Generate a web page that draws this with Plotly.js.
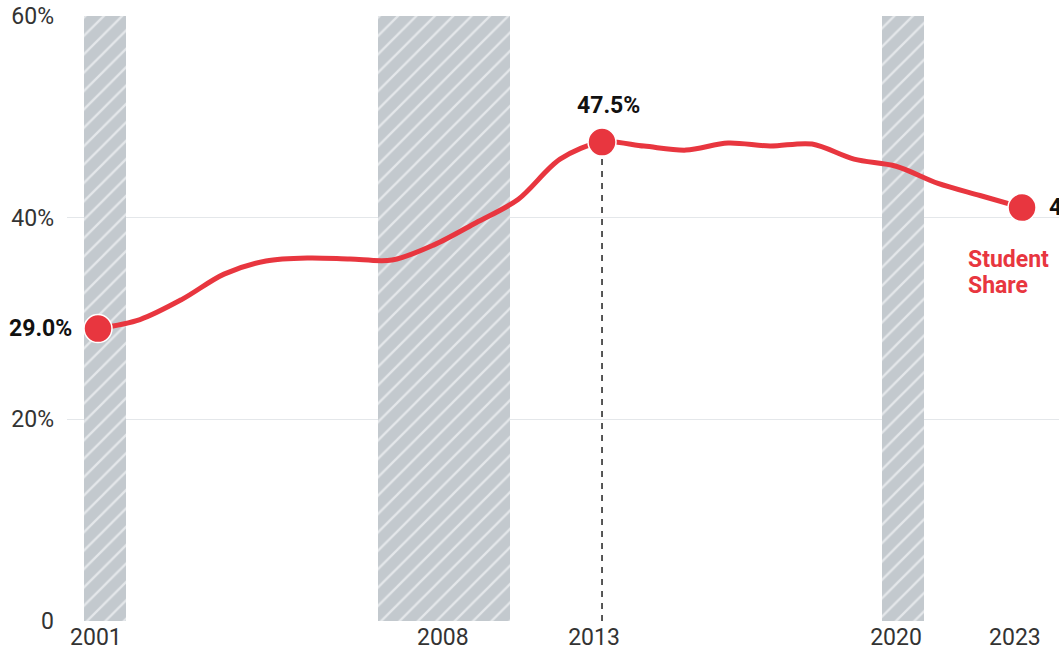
<!DOCTYPE html>
<html>
<head>
<meta charset="utf-8">
<script src="https://cdn.plot.ly/plotly-3.0.1.min.js"></script>
<style>html,body{margin:0;padding:0;background:#fff;}#chart{width:1059px;height:656px;}</style>
</head>
<body>
<div id="chart"></div>
<script>
// Student share of the total (percent), annual
const years = [2001,2002,2003,2004,2005,2006,2007,2008,2009,2010,2011,2012,2013,2014,2015,2016,2017,2018,2019,2020,2021,2022,2023];
const studentShare = [29.0,29.9,31.9,34.4,35.7,36.0,35.9,35.8,37.3,39.5,41.8,45.8,47.5,47.1,46.7,47.4,47.1,47.3,45.8,45.1,43.4,42.2,41.0];

// Recession periods (shaded bands)
const recessionStart = [2000.67, 2007.67, 2019.67];
const recessionEnd   = [2001.67, 2010.81, 2020.67];

// Axis tick labels
const xTickLabels = ['2001','2008','2013','2020','2023'];
const yTickValues = [0, 20, 40, 60];
const yTickLabels = ['0','20%','40%','60%'];

const seriesNameLines = ['Student', 'Share'];
const RED = '#e8363f';

const firstIdx = 0, lastIdx = years.length - 1;
const peakIdx = studentShare.indexOf(Math.max(...studentShare));

const bandCenters = recessionStart.map((s,i)=> (s + recessionEnd[i]) / 2);
const bandWidths = recessionStart.map((s,i)=> recessionEnd[i] - s);

const traces = [
  {
    type: 'bar',
    x: bandCenters,
    y: bandCenters.map(()=>60),
    width: bandWidths,
    marker: {
      color: '#c3c9ce',
      line: {width: 0},
      pattern: {shape: '/', bgcolor: '#c3c9ce', fgcolor: '#e4e7ea', size: 13, solidity: 0.18}
    },
    hoverinfo: 'skip',
    showlegend: false
  },
  {
    type: 'scatter', mode: 'lines',
    x: [years[peakIdx], years[peakIdx]],
    y: [0, studentShare[peakIdx]],
    line: {color: '#111', width: 1.4, dash: '6px,6px'},
    hoverinfo: 'skip', showlegend: false
  },
  {
    type: 'scatter', mode: 'lines',
    x: years, y: studentShare,
    line: {color: RED, width: 5, shape: 'spline', smoothing: 0.9},
    hoverinfo: 'skip', showlegend: false
  },
  {
    type: 'scatter', mode: 'markers',
    x: [years[firstIdx], years[peakIdx], years[lastIdx]],
    y: [studentShare[firstIdx], studentShare[peakIdx], studentShare[lastIdx]],
    marker: {color: RED, size: 28, line: {color: '#fff', width: 1.5}},
    hoverinfo: 'skip', showlegend: false, cliponaxis: false
  }
];

const fmt = v => v.toFixed(1) + '%';
const FS = 23;
const labelFont = {family: 'Roboto, sans-serif', size: FS, color: '#111', weight: 'bold'};
const nameFont = {family: 'Roboto, sans-serif', size: FS, color: RED, weight: 'bold'};

const layout = {
  width: 1059, height: 656,
  margin: {l: 67, r: 0, t: 16, b: 35},
  paper_bgcolor: '#fff', plot_bgcolor: '#fff',
  barmode: 'overlay',
  bargap: 0,
  font: {family: 'Roboto, sans-serif', size: FS, color: '#333'},
  xaxis: {
    range: [2000.262, 2023.88],
    tickvals: [2000.95, 2009.21, 2012.81, 2020.0, 2022.83],
    ticktext: xTickLabels,
    showgrid: false, zeroline: false, showline: false,
    ticks: '', tickfont: {size: FS, color: '#333'}
  },
  yaxis: {
    range: [0, 60],
    tickvals: yTickValues, ticktext: yTickLabels,
    showgrid: true, gridcolor: '#e4e7ea', gridwidth: 1.5,
    zeroline: false, showline: false, ticks: '',
    ticklabelstandoff: 12,
    tickfont: {size: FS, color: '#333'}
  },
  annotations: [
    {x: years[firstIdx], y: studentShare[firstIdx], text: fmt(studentShare[firstIdx]),
     showarrow: false, xanchor: 'right', yanchor: 'middle', xshift: -24, font: labelFont},
    {x: years[peakIdx], y: studentShare[peakIdx], text: fmt(studentShare[peakIdx]),
     showarrow: false, xanchor: 'center', yanchor: 'middle', yshift: 37, xshift: 6, font: labelFont},
    {x: years[lastIdx], y: studentShare[lastIdx], text: fmt(studentShare[lastIdx]),
     showarrow: false, xanchor: 'left', yanchor: 'middle', xshift: 25, font: labelFont},
    {x: years[lastIdx], y: studentShare[lastIdx], text: seriesNameLines[0],
     showarrow: false, xanchor: 'left', yanchor: 'middle', xshift: -56, yshift: -52, font: nameFont},
    {x: years[lastIdx], y: studentShare[lastIdx], text: seriesNameLines[1],
     showarrow: false, xanchor: 'left', yanchor: 'middle', xshift: -56, yshift: -78, font: nameFont}
  ]
};

Plotly.newPlot('chart', traces, layout, {displayModeBar: false, staticPlot: true});
</script>
</body>
</html>
